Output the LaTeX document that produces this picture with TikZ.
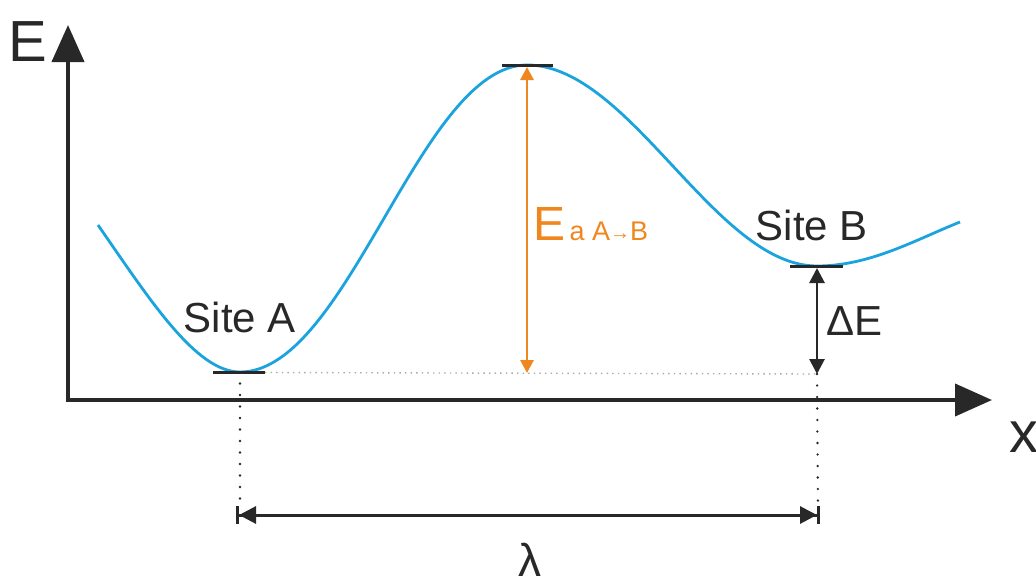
\documentclass[tikz,border=0pt]{standalone}
\usepackage{fontspec}
\setmainfont{Liberation Sans}
\usetikzlibrary{arrows.meta,calc}
\definecolor{curveblue}{RGB}{27,163,221}
\definecolor{actorange}{RGB}{240,134,30}
\definecolor{axisdark}{RGB}{40,40,40}
\definecolor{dotgray}{RGB}{170,170,170}
\begin{document}
\begin{tikzpicture}[x=1pt,y=-1pt,
  axisline/.style={draw=axisdark,line width=4pt,-{Triangle[length=37pt,width=32pt]}},
  levelbar/.style={draw=axisdark,line width=3pt},
  vdots/.style={draw=axisdark,line width=2.6pt,line cap=round,dash pattern=on 0pt off 11.5pt},
  hdots/.style={draw=dotgray,line width=1.4pt,dash pattern=on 1.4pt off 4.2pt},
  lbl/.style={text=axisdark,inner sep=0pt,font=\fontsize{42}{48}\selectfont},
  bigl/.style={text=axisdark,inner sep=0pt,font=\fontsize{58}{64}\selectfont}]
\useasboundingbox (0,0) rectangle (1036,576);
% key points
\coordinate (origin) at (68,400);
\coordinate (ytip) at (68,25);
\coordinate (xtip) at (992,400);
\coordinate (start) at (98,225);
\coordinate (minA) at (240,372);
\coordinate (top) at (527,65);
\coordinate (minB) at (817,266);
\coordinate (finish) at (960,222);
\coordinate (baseA) at (527,373);
\coordinate (baseB) at (817,374);
\coordinate (lamA) at (236,515);
\coordinate (lamB) at (820,515);
\coordinate (dotAend) at (240,508);
\coordinate (dotBend) at (818,508);
% axes
\draw[axisline] ($(origin)+(-2,0)$) -- (xtip);
\draw[axisline] ($(origin)+(0,2)$) -- (ytip);
\node[bigl] (Elab) at (28,42) {E};
\node[bigl] (xlab) at (1024,437) {x};
% dotted guides
\draw[hdots] (265,372.5) -- (baseB);
\draw[vdots] (minA) -- (dotAend);
\draw[vdots] (baseB) -- (dotBend);
% energy curve
\draw[curveblue,line width=2.8pt]
  (start) .. controls (150,300) and (196,372) .. (minA)
  .. controls (348,372) and (420,65) .. (top)
  .. controls (630,65) and (715,266) .. (minB)
  .. controls (870,266) and (915,240) .. (finish);
% level bars
\draw[levelbar] ($(minA)+(-27,0)$) -- ($(minA)+(25,0)$);
\draw[levelbar] ($(top)+(-25,0)$) -- ($(top)+(26,0)$);
\draw[levelbar] ($(minB)+(-27,0)$) -- ($(minB)+(26,0)$);
% activation energy arrow
\draw[actorange,line width=2.8pt,{Triangle[length=13pt,width=13pt]}-{Triangle[length=13pt,width=13pt]}]
  ($(top)+(0,2)$) -- (baseA);
\node[text=actorange,inner sep=0pt,anchor=base west] (Ealab) at (533,240)
  {\fontsize{48}{52}\selectfont E\fontsize{27}{30}\selectfont\,a A\raisebox{1pt}{\fontsize{20}{22}\selectfont\char"2192}B};
% Delta E arrow
\draw[axisdark,line width=2.8pt,{Triangle[length=15pt,width=15pt]}-{Triangle[length=15pt,width=15pt]}]
  ($(minB)+(0,2)$) -- (baseB);
\node[lbl,anchor=west] (dElab) at (826,321) {ΔE};
% lambda arrow
\draw[axisdark,line width=3pt,{Bar[width=18pt,line width=3pt]Triangle[length=17pt,width=17pt]}-{Triangle[length=17pt,width=17pt]Bar[width=18pt,line width=3pt]}]
  (lamA) -- (lamB);
\node[text=axisdark,inner sep=0pt,font=\fontsize{46}{50}\selectfont,anchor=north] (lamlab) at (530,543) {λ};
% site labels
\node[lbl] (siteA) at (240,317) {Site A};
\node[lbl] (siteB) at (812,225) {Site B};
\end{tikzpicture}
\end{document}
